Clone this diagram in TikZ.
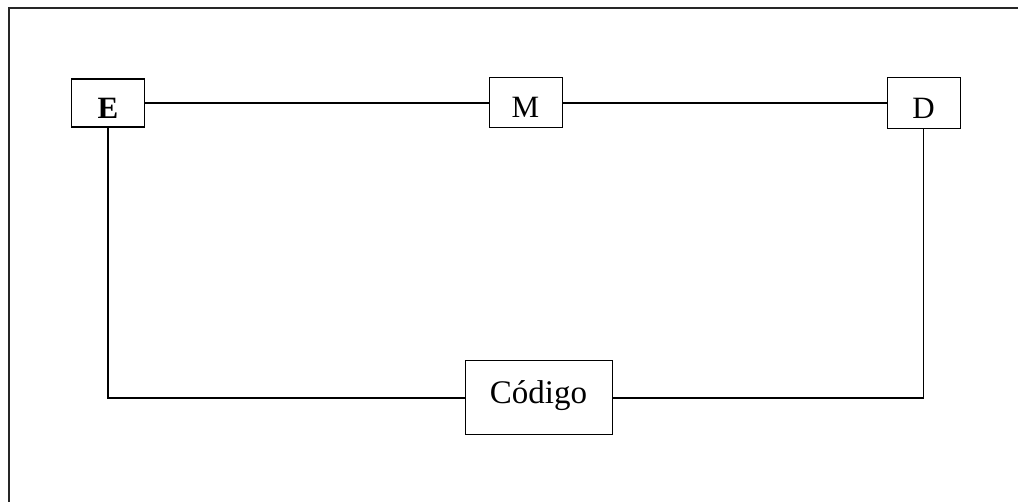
\documentclass[tikz,border=0pt]{standalone}
\usepackage{fontspec}
\setmainfont{Liberation Serif}
\begin{document}
\begin{tikzpicture}[x=1pt,y=-1pt,
  box/.style={draw=black,line width=1pt,inner sep=0pt,fill=white},
  lbl/.style={anchor=base,inner sep=0pt,font=\fontsize{31}{37}\selectfont},
  wire/.style={draw=black,line width=1.8pt}]
\useasboundingbox (0,0) rectangle (1018,502);
\fill[white] (0,0) rectangle (1018,502);
% open frame
\draw[line width=2pt,black!85] (8.5,502) -- (8.5,8.5) -- (1018,8.5);
% boxes
\node[box,line width=1.6pt,minimum width=73pt,minimum height=48pt] (E) at (108,103) {};
\node[box,minimum width=73pt,minimum height=50pt] (M) at (525.5,103) {};
\node[box,minimum width=73pt,minimum height=51pt] (D) at (923.5,103) {};
\node[box,minimum width=147pt,minimum height=74pt] (C) at (538.5,398) {};
% labels
\node[lbl] (Et) at (108,119) {\textbf{E}};
\node[lbl] (Mt) at (525.5,118) {M};
\node[lbl] (Dt) at (923.5,118.5) {D};
\node[lbl,font=\fontsize{33}{39}\selectfont] (Ct) at (538.5,404) {Código};
% connectors
\draw[wire] (E.east) -- (M.west);
\draw[wire] (M.east) -- (D.west);
\draw[wire] (E.south) |- (C.west);
\draw[wire] (D.south) |- (C.east);
\end{tikzpicture}
\end{document}
